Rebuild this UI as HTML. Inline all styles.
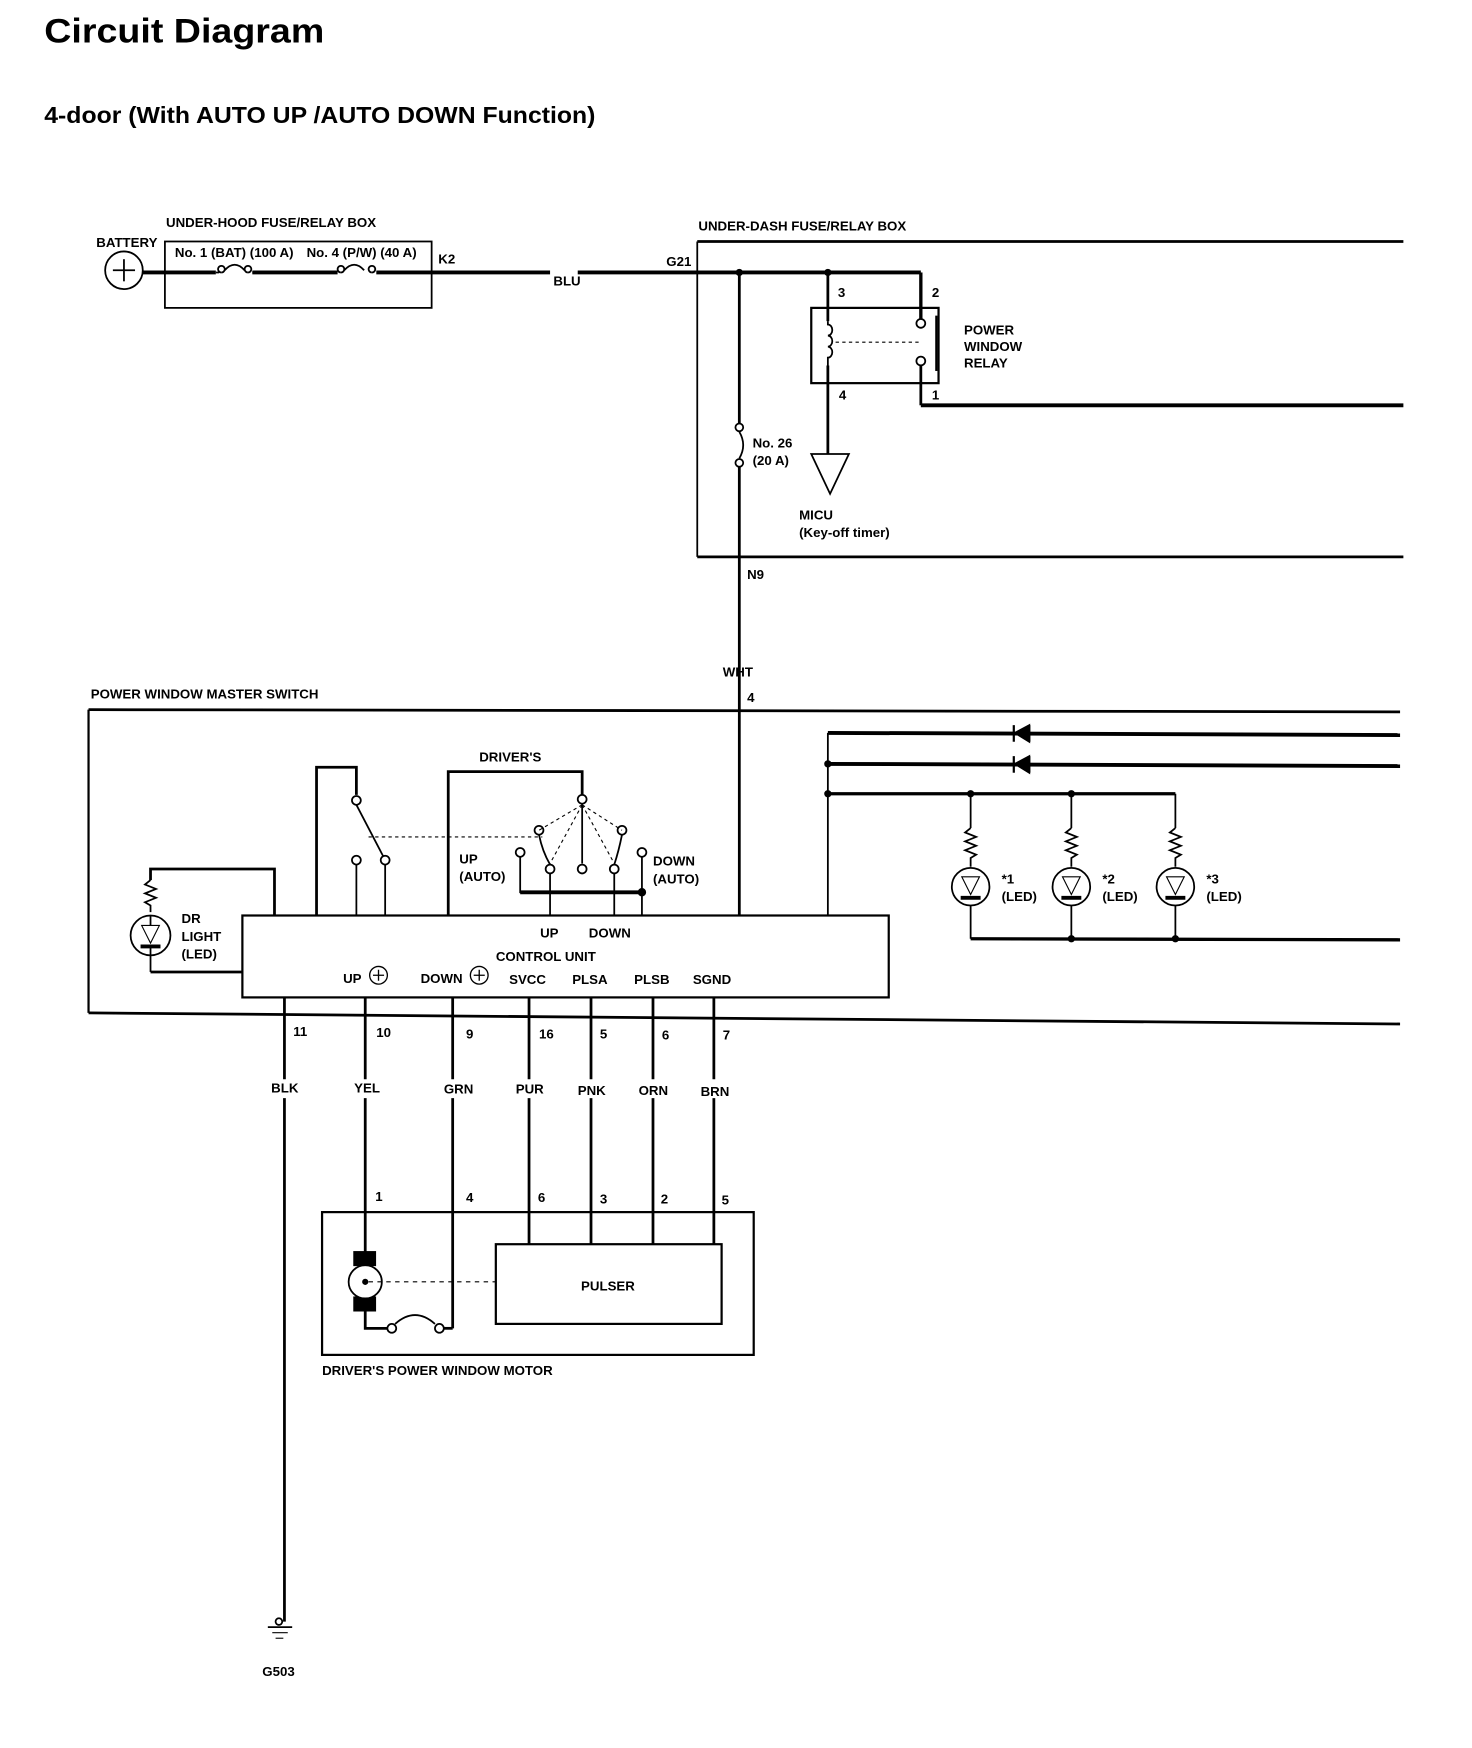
<!DOCTYPE html>
<html><head><meta charset="utf-8"><style>
html,body{margin:0;padding:0;background:#fff;}
svg{display:block;}
text{font-family:"Liberation Sans",sans-serif;font-weight:bold;fill:#000;}
.s{font-size:12px;}
</style></head><body>
<svg width="1472" height="1748" viewBox="0 0 1330 1579" xmlns="http://www.w3.org/2000/svg">
<g fill="none" stroke="#000" stroke-width="1.6">
<circle cx="112" cy="244" r="17"/>
<line x1="102" y1="244" x2="122" y2="244"/><line x1="112" y1="234" x2="112" y2="254"/>
<rect x="149" y="218" width="241" height="60"/>
<line x1="129" y1="246" x2="195" y2="246" stroke-width="3.5"/>
<path d="M195 246 h3 M200 246 a3 3 0 1 1 0.1 0 M203 244 q9 -10 18 0 M224 246 a3 3 0 1 1 0.1 0 M228 246 h77"/>
<line x1="228" y1="246" x2="305" y2="246" stroke-width="3.5"/>
<path d="M308 246 a3 3 0 1 1 0.1 0 M311 244 q9 -10 18 0 M336 246 a3 3 0 1 1 0.1 0"/>
<line x1="340" y1="246" x2="497" y2="246" stroke-width="3.5"/>
<line x1="522" y1="246" x2="832" y2="246" stroke-width="3.5"/>
<line x1="630" y1="218" x2="1268" y2="218" stroke-width="2.5"/>
<line x1="630" y1="218" x2="630" y2="503"/>
<line x1="630" y1="503" x2="1268" y2="503" stroke-width="2.5"/>
<line x1="832" y1="246" x2="832" y2="288" stroke-width="3"/>
<line x1="668" y1="246" x2="668" y2="382" stroke-width="2.5"/>
<circle cx="668" cy="386" r="3.5"/><path d="M668 390 q7 12 0 24"/><circle cx="668" cy="418" r="3.5"/>
<line x1="668" y1="422" x2="668" y2="827" stroke-width="2.5"/>
<line x1="748" y1="246" x2="748" y2="290" stroke-width="2.5"/>
<rect x="733" y="278" width="115" height="68" stroke-width="2"/>
<path d="M748 290 v3 a4 5 0 0 1 0 10 a4 5 0 0 1 0 10 a4 5 0 0 1 0 10 v7"/>
<line x1="748" y1="330" x2="748" y2="410" stroke-width="2.5"/>
<line x1="755" y1="309" x2="832" y2="309" stroke-dasharray="3 3" stroke-width="1"/>
<circle cx="832" cy="292" r="4"/><circle cx="832" cy="326" r="4"/>
<line x1="846" y1="285" x2="846" y2="335" stroke-width="2"/>
<line x1="832" y1="330" x2="832" y2="366" stroke-width="2.5"/>
<line x1="832" y1="366" x2="1268" y2="366" stroke-width="3.5"/>
<path d="M733 410 L767 410 L750 446 Z"/>
<circle cx="668" cy="246" r="2.5" fill="#000"/><circle cx="748" cy="246" r="2.5" fill="#000"/>
<line x1="80" y1="641" x2="1265" y2="643" stroke-width="2.5"/>
<line x1="80" y1="641" x2="80" y2="915" stroke-width="2"/>
<line x1="80" y1="915" x2="1265" y2="925" stroke-width="2.5"/>
<rect x="219" y="827" width="584" height="74" stroke-width="2"/>
<polyline points="286,827 286,693 322,693 322,718" stroke-width="2.5"/>
<circle cx="322" cy="723" r="4"/><circle cx="322" cy="777" r="4"/><circle cx="348" cy="777" r="4"/>
<line x1="322" y1="727" x2="346" y2="773"/>
<line x1="322" y1="781" x2="322" y2="827"/><line x1="348" y1="781" x2="348" y2="827"/>
<line x1="333" y1="756" x2="490" y2="756" stroke-dasharray="3 3" stroke-width="1"/>
<polyline points="405,827 405,697 526,697 526,718" stroke-width="2.5"/>
<circle cx="526" cy="722" r="4"/>
<line x1="526" y1="727" x2="526" y2="780"/><circle cx="526" cy="785" r="4"/>
<g stroke-dasharray="3 3" stroke-width="1"><line x1="526" y1="727" x2="487" y2="750"/><line x1="526" y1="727" x2="497" y2="780"/><line x1="526" y1="727" x2="562" y2="750"/><line x1="526" y1="727" x2="555" y2="780"/></g>
<circle cx="487" cy="750" r="4"/><circle cx="562" cy="750" r="4"/>
<circle cx="470" cy="770" r="4"/><circle cx="580" cy="770" r="4"/>
<circle cx="497" cy="785" r="4"/><circle cx="555" cy="785" r="4"/>
<path d="M487 754 q3 15 10 27 M562 754 q-3 15 -7 27"/>
<polyline points="470,774 470,806 580,806 580,774" stroke-width="1.6"/>
<line x1="470" y1="806" x2="580" y2="806" stroke-width="3.5"/>
<line x1="497" y1="789" x2="497" y2="827"/><line x1="555" y1="789" x2="555" y2="827"/><line x1="580" y1="806" x2="580" y2="827"/>
<circle cx="580" cy="806" r="3" fill="#000"/>
<polyline points="248,827 248,785 136,785 136,795" stroke-width="2.5"/>
<path d="M136 795 l-5 4 l10 4 l-10 4 l10 4 l-10 4 l5 3 v6"/>
<circle cx="136" cy="845" r="18"/>
<path d="M128 836 L144 836 L136 852 Z" stroke-width="1"/><line x1="127" y1="855" x2="145" y2="855" stroke-width="3.5"/>
<line x1="136" y1="827" x2="136" y2="836"/><line x1="136" y1="855" x2="136" y2="878"/>
<line x1="136" y1="878" x2="219" y2="878" stroke-width="2.5"/>
<line x1="748" y1="827" x2="748" y2="662"/>
<line x1="748" y1="662" x2="1265" y2="664" stroke-width="3.5"/>
<line x1="748" y1="690" x2="1265" y2="692" stroke-width="3.5"/>
<line x1="748" y1="717" x2="1062" y2="717" stroke-width="3"/>
<path d="M930 655 L930 670 M931 662 L915 662" stroke-width="2"/>
<path d="M930 655 L917 662 L930 670 Z" fill="#000"/>
<path d="M930 683 L930 698" stroke-width="2"/><path d="M930 683 L917 690 L930 698 Z" fill="#000"/>
<line x1="916" y1="655" x2="916" y2="670" stroke-width="2"/><line x1="916" y1="683" x2="916" y2="698" stroke-width="2"/>
<circle cx="748" cy="690" r="2.5" fill="#000"/><circle cx="748" cy="717" r="2.5" fill="#000"/>
<circle cx="877" cy="717" r="2.5" fill="#000"/><circle cx="968" cy="717" r="2.5" fill="#000"/>
<g id="led">
<line x1="877" y1="717" x2="877" y2="748"/>
<path d="M877 748 l-5 4 l10 4 l-10 4 l10 4 l-10 4 l10 4 l-5 3 v8"/>
<circle cx="877" cy="801" r="17"/>
<path d="M869 792 L885 792 L877 808 Z" stroke-width="1"/><line x1="868" y1="811" x2="886" y2="811" stroke-width="3.5"/>
<line x1="877" y1="818" x2="877" y2="848"/>
</g>
<use href="#led" x="91"/><use href="#led" x="185"/>
<line x1="877" y1="848" x2="1265" y2="849" stroke-width="3"/>
<circle cx="968" cy="848" r="2.5" fill="#000"/><circle cx="1062" cy="848" r="2.5" fill="#000"/>
<circle cx="342" cy="881" r="8" stroke-width="1.2"/><path d="M337 881 h10 M342 876 v10" stroke-width="1.2"/>
<circle cx="433" cy="881" r="8" stroke-width="1.2"/><path d="M428 881 h10 M433 876 v10" stroke-width="1.2"/>
<g stroke-width="2.5">
<line x1="257" y1="901" x2="257" y2="975"/><line x1="257" y1="992" x2="257" y2="1465"/>
<line x1="330" y1="901" x2="330" y2="975"/><line x1="330" y1="992" x2="330" y2="1131"/>
<line x1="409" y1="901" x2="409" y2="975"/><line x1="409" y1="992" x2="409" y2="1200"/>
<line x1="478" y1="901" x2="478" y2="975"/><line x1="478" y1="992" x2="478" y2="1124"/>
<line x1="534" y1="901" x2="534" y2="975"/><line x1="534" y1="992" x2="534" y2="1124"/>
<line x1="590" y1="901" x2="590" y2="975"/><line x1="590" y1="992" x2="590" y2="1124"/>
<line x1="645" y1="901" x2="645" y2="975"/><line x1="645" y1="992" x2="645" y2="1124"/>
</g>
<rect x="291" y="1095" width="390" height="129" stroke-width="2"/>
<rect x="448" y="1124" width="204" height="72" stroke-width="2"/>
<rect x="320" y="1131" width="19" height="12" fill="#000"/>
<rect x="320" y="1172" width="19" height="12" fill="#000"/>
<circle cx="330" cy="1158" r="15" fill="#fff"/>
<circle cx="330" cy="1158" r="2" fill="#000"/>
<line x1="333" y1="1158" x2="448" y2="1158" stroke-dasharray="4 4" stroke-width="1"/>
<polyline points="330,1184 330,1200 350,1200" stroke-width="2.5"/>
<circle cx="354" cy="1200" r="4"/><path d="M357 1196 q18 -16 36 0"/><circle cx="397" cy="1200" r="4"/>
<line x1="401" y1="1200" x2="409" y2="1200" stroke-width="2.5"/>
<circle cx="252" cy="1465" r="3"/>
<line x1="242" y1="1470" x2="264" y2="1470"/><line x1="246" y1="1475" x2="260" y2="1475" stroke-width="1"/><line x1="249" y1="1480" x2="256" y2="1480" stroke-width="1"/>
</g>
<text x="40" y="38" style="font-size:31px" textLength="253" lengthAdjust="spacingAndGlyphs">Circuit Diagram</text>
<text x="40" y="111" style="font-size:21px" textLength="498" lengthAdjust="spacingAndGlyphs">4-door (With AUTO UP /AUTO DOWN Function)</text>
<g class="s">
<text x="150" y="205" class="s">UNDER-HOOD FUSE/RELAY BOX</text>
<text x="87" y="223" class="s">BATTERY</text>
<text x="158" y="232" class="s">No. 1 (BAT) (100 A)</text>
<text x="277" y="232" class="s">No. 4 (P/W) (40 A)</text>
<text x="396" y="238" class="s">K2</text>
<text x="500" y="258" class="s">BLU</text>
<text x="602" y="240" class="s">G21</text>
<text x="631" y="208" class="s">UNDER-DASH FUSE/RELAY BOX</text>
<text x="757" y="268" class="s">3</text><text x="842" y="268" class="s">2</text>
<text x="871" y="302" class="s">POWER</text><text x="871" y="317" class="s">WINDOW</text><text x="871" y="332" class="s">RELAY</text>
<text x="758" y="361" class="s">4</text><text x="842" y="361" class="s">1</text>
<text x="680" y="404" class="s">No. 26</text><text x="680" y="420" class="s">(20 A)</text>
<text x="722" y="469" class="s">MICU</text><text x="722" y="485" class="s">(Key-off timer)</text>
<text x="675" y="523" class="s">N9</text>
<text x="653" y="611" class="s">WHT</text><text x="675" y="634" class="s">4</text>
<text x="82" y="631" class="s">POWER WINDOW MASTER SWITCH</text>
<text x="433" y="688" class="s">DRIVER'S</text>
<text x="415" y="780" class="s">UP</text><text x="415" y="796" class="s">(AUTO)</text>
<text x="590" y="782" class="s">DOWN</text><text x="590" y="798" class="s">(AUTO)</text>
<text x="164" y="834" class="s">DR</text><text x="164" y="850" class="s">LIGHT</text><text x="164" y="866" class="s">(LED)</text>
<text x="905" y="798" class="s">*1</text><text x="905" y="814" class="s">(LED)</text>
<text x="996" y="798" class="s">*2</text><text x="996" y="814" class="s">(LED)</text>
<text x="1090" y="798" class="s">*3</text><text x="1090" y="814" class="s">(LED)</text>
<text x="488" y="847" class="s">UP</text><text x="532" y="847" class="s">DOWN</text>
<text x="448" y="868" class="s">CONTROL UNIT</text>
<text x="310" y="888" class="s">UP</text><text x="380" y="888" class="s">DOWN</text>
<text x="460" y="889" class="s">SVCC</text><text x="517" y="889" class="s">PLSA</text><text x="573" y="889" class="s">PLSB</text><text x="626" y="889" class="s">SGND</text>
<text x="265" y="936" class="s">11</text><text x="340" y="937" class="s">10</text><text x="421" y="938" class="s">9</text>
<text x="487" y="938" class="s">16</text><text x="542" y="938" class="s">5</text><text x="598" y="939" class="s">6</text><text x="653" y="939" class="s">7</text>
<text x="245" y="987" class="s">BLK</text><text x="320" y="987" class="s">YEL</text><text x="401" y="988" class="s">GRN</text>
<text x="466" y="988" class="s">PUR</text><text x="522" y="989" class="s">PNK</text><text x="577" y="989" class="s">ORN</text><text x="633" y="990" class="s">BRN</text>
<text x="339" y="1085" class="s">1</text><text x="421" y="1086" class="s">4</text><text x="486" y="1086" class="s">6</text>
<text x="542" y="1087" class="s">3</text><text x="597" y="1087" class="s">2</text><text x="652" y="1088" class="s">5</text>
<text x="525" y="1166" class="s">PULSER</text>
<text x="291" y="1242" class="s">DRIVER'S POWER WINDOW MOTOR</text>
<text x="237" y="1514" class="s">G503</text>
</g>
</svg>
</body></html>
